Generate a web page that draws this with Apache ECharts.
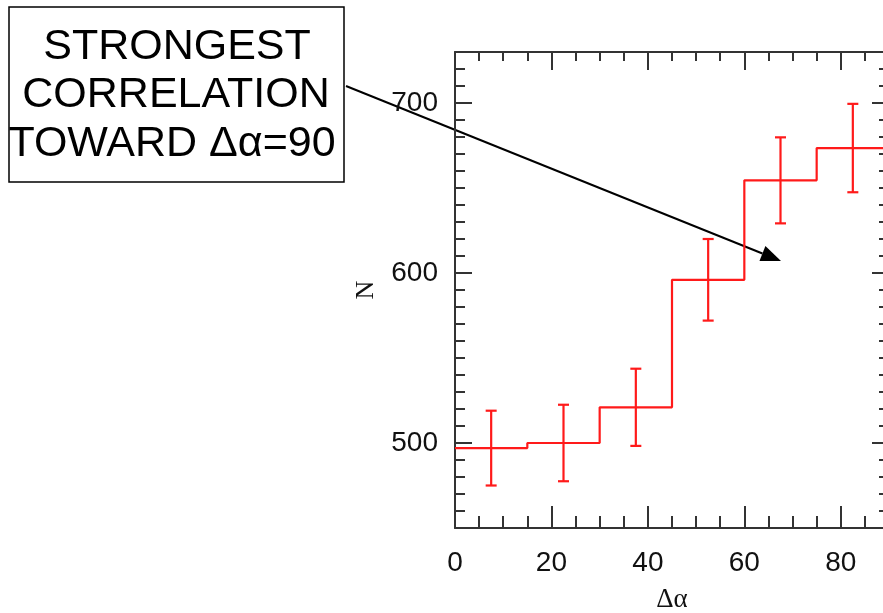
<!DOCTYPE html>
<html>
<head>
<meta charset="utf-8">
<script src="https://cdn.jsdelivr.net/npm/echarts@6/dist/echarts.min.js"></script>
<style>
  html, body { margin: 0; padding: 0; background: #fff; }
  #chart { width: 883px; height: 613px; }
</style>
</head>
<body>
<div id="chart"></div>
<script>
// bin edges of delta-alpha and counts per bin
const binEdges = [0, 15, 30, 45, 60, 75, 90];
const counts = [497, 500, 521, 596, 654.5, 673.5];
const errors = [22, 22.5, 22.7, 24, 25.3, 26];

const xMajor = [20, 40, 60, 80];
const xLabels = [0, 20, 40, 60, 80];
const xMinor = [5, 10, 15, 25, 30, 35, 45, 50, 55, 65, 70, 75, 85];
const yMajor = [500, 600, 700];
const yMinor = [460, 470, 480, 490, 510, 520, 530, 540, 550, 560, 570, 580, 590,
  610, 620, 630, 640, 650, 660, 670, 680, 690, 710, 720];

const chart = echarts.init(document.getElementById('chart'));

// step line: every bin starts at its left edge, last level runs to the end
const stepData = counts.map((c, i) => [binEdges[i], c]);
stepData.push([binEdges[binEdges.length - 1], counts[counts.length - 1]]);

const errData = counts.map((c, i) => [(binEdges[i] + binEdges[i + 1]) / 2, c, errors[i]]);

const axisCol = '#333';
const red = '#ff1a1a';
const labelFont = { color: '#111', fontSize: 28, fontFamily: 'Liberation Sans' };

function xAxisDef(pos, ticks, len, showLine, labels, extra) {
  return Object.assign({
    type: 'value', position: pos, min: 0, max: 90,
    axisLine: { show: showLine, onZero: false, lineStyle: { color: axisCol, width: 2 } },
    axisTick: { show: true, inside: true, length: len, customValues: ticks,
      lineStyle: { color: axisCol, width: 2 } },
    axisLabel: labels ? Object.assign({ customValues: labels, margin: 21 }, labelFont) : { show: false },
    splitLine: { show: false }
  }, extra || {});
}

function yAxisDef(pos, ticks, len, showLine, labels, extra) {
  return Object.assign({
    type: 'value', position: pos, min: 450, max: 730,
    axisLine: { show: showLine, onZero: false, lineStyle: { color: axisCol, width: 2 } },
    axisTick: { show: true, inside: true, length: len, customValues: ticks,
      lineStyle: { color: axisCol, width: 2 } },
    axisLabel: labels ? Object.assign({ customValues: labels, margin: 17, padding: [10, 0, 0, 0] }, labelFont) : { show: false },
    splitLine: { show: false }
  }, extra || {});
}

const option = {
  animation: false,
  backgroundColor: '#fff',
  grid: { left: 455, top: 52, width: 434, height: 476, outerBoundsMode: 'none' },
  xAxis: [
    xAxisDef('bottom', xMinor, 12, true, xLabels, {
      name: 'Δα', nameLocation: 'middle', nameGap: 58,
      nameTextStyle: { fontSize: 27, fontFamily: 'Liberation Serif', color: '#111' }
    }),
    xAxisDef('bottom', xMajor, 22, false, null),
    xAxisDef('top', xMinor, 9, true, null),
    xAxisDef('top', xMajor, 18, false, null)
  ],
  yAxis: [
    yAxisDef('left', yMinor, 10, true, yMajor, {
      name: 'N', nameLocation: 'middle', nameGap: 76,
      nameTextStyle: { fontSize: 26, fontFamily: 'Liberation Serif', color: '#111' }
    }),
    yAxisDef('left', yMajor, 17, false, null),
    yAxisDef('right', yMinor, 10, true, null),
    yAxisDef('right', yMajor, 17, false, null)
  ],
  series: [
    {
      type: 'line',
      step: 'end',
      data: stepData,
      symbol: 'none',
      lineStyle: { color: red, width: 2.2 }
    },
    {
      type: 'custom',
      data: errData,
      renderItem: function (params, api) {
        const x = api.value(0), y = api.value(1), e = api.value(2);
        const top = api.coord([x, y + e]);
        const bot = api.coord([x, y - e]);
        const cap = 5.5;
        const style = { stroke: red, lineWidth: 2.2 };
        return {
          type: 'group',
          children: [
            { type: 'line', shape: { x1: top[0], y1: top[1], x2: bot[0], y2: bot[1] }, style: style },
            { type: 'line', shape: { x1: top[0] - cap, y1: top[1], x2: top[0] + cap, y2: top[1] }, style: style },
            { type: 'line', shape: { x1: bot[0] - cap, y1: bot[1], x2: bot[0] + cap, y2: bot[1] }, style: style }
          ]
        };
      }
    }
  ]
};

chart.setOption(option);

// annotation box with arrow
const arrowFrom = [346, 86];
const arrowTo = [781, 261];
const dx = arrowTo[0] - arrowFrom[0], dy = arrowTo[1] - arrowFrom[1];
const len = Math.sqrt(dx * dx + dy * dy);
const ux = dx / len, uy = dy / len;
const headLen = 20, headHalf = 8;
const bx = arrowTo[0] - ux * headLen, by = arrowTo[1] - uy * headLen;
const noteFont = '43px "Liberation Sans"';

chart.setOption({
  graphic: [
    { type: 'rect', shape: { x: 9, y: 7, width: 335, height: 175 },
      style: { fill: '#fff', stroke: '#000', lineWidth: 1.5 } },
    { type: 'text', x: 177, y: 47, style: { text: 'STRONGEST', font: noteFont, fill: '#000', align: 'center', verticalAlign: 'middle' } },
    { type: 'text', x: 176, y: 95, style: { text: 'CORRELATION', font: noteFont, fill: '#000', align: 'center', verticalAlign: 'middle' } },
    { type: 'text', x: 172, y: 144, style: { text: 'TOWARD Δα=90', font: noteFont, fill: '#000', align: 'center', verticalAlign: 'middle' } },
    { type: 'line', shape: { x1: arrowFrom[0], y1: arrowFrom[1], x2: bx, y2: by },
      style: { stroke: '#000', lineWidth: 2 } },
    { type: 'polygon', shape: { points: [
        arrowTo,
        [bx - uy * headHalf, by + ux * headHalf],
        [bx + uy * headHalf, by - ux * headHalf]
      ] }, style: { fill: '#000' } }
  ]
});
</script>
</body>
</html>
